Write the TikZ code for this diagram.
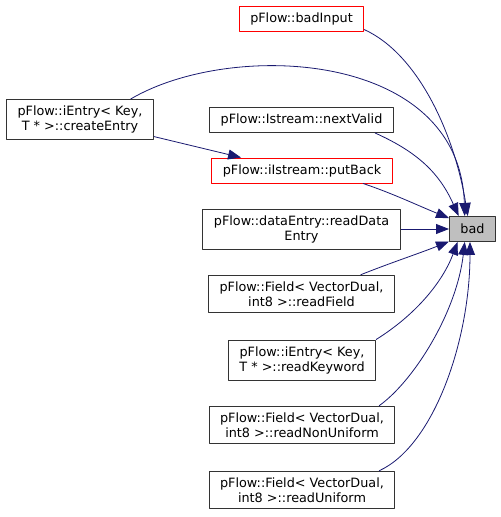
\documentclass[tikz,border=0pt]{standalone}
\usepackage{fontspec}
\setmainfont{DejaVu Sans}
\usetikzlibrary{arrows.meta}
\definecolor{edgeblue}{HTML}{191970}
\definecolor{badgray}{HTML}{BFBFBF}
\begin{document}
\begin{tikzpicture}[x=1bp, y=-1bp, font=\fontsize{12.8bp}{15bp}\selectfont, line join=round,
	>={Triangle[length=13bp,width=10bp]},
	fn/.style={draw=black!80, line width=.9bp, align=center, inner xsep=11bp, inner ysep=6.3bp, minimum height=25bp},
	cut/.style={fn, draw=red},
	edge/.style={->, draw=edgeblue, line width=.8bp}]
	\useasboundingbox (0,0) rectangle (501,517);
	% callers
	\node[cut] (badinput) at (301.5,18.5) {pFlow::badInput};
	\node[fn] (createentry) at (80,119.5) {pFlow::iEntry< Key,\\ T * >::createEntry};
	\node[fn] (nextvalid) at (301.5,120) {pFlow::Istream::nextValid};
	\node[cut] (putback) at (302,170.5) {pFlow::iIstream::putBack};
	\node[fn] (readdata) at (301.5,229) {pFlow::dataEntry::readData\\ Entry};
	\node[fn] (readfield) at (301.5,294) {pFlow::Field< VectorDual,\\ int8 >::readField};
	\node[fn] (readkeyword) at (302,360) {pFlow::iEntry< Key,\\ T * >::readKeyword};
	\node[fn] (readnonuni) at (302,425) {pFlow::Field< VectorDual,\\ int8 >::readNonUniform};
	\node[fn] (readuni) at (302,490) {pFlow::Field< VectorDual,\\ int8 >::readUniform};
	% callee
	\node[fn, fill=badgray] (bad) at (472.5,229) {bad};
	% calls
	\draw[edge] (badinput.-10) .. controls +(55,25) and +(-13,-80) .. (bad.110);
	\draw[edge] (createentry.22) .. controls +(100,-59) and +(-5,-166) .. (bad.121);
	\draw[edge] (createentry.-13) -- (putback.168);
	\draw[edge] (nextvalid.-10) .. controls +(40,18) and +(-20,-45) .. (bad.137);
	\draw[edge] (putback.-12) .. controls +(30,10) and +(-30,-12) .. (bad.155);
	\draw[edge] (readdata) -- (bad);
	\draw[edge] (readfield.18) .. controls +(30,-12) and +(-30,12) .. (bad.208);
	\draw[edge] (readkeyword.north east) .. controls +(40,-25) and +(-15,40) .. (bad.-139);
	\draw[edge] (readnonuni.14) .. controls +(35,-25) and +(-8,70) .. (bad.-121);
	\draw[edge] (readuni.14) .. controls +(55,-25) and +(0,98) .. (bad.-101);
\end{tikzpicture}
\end{document}
